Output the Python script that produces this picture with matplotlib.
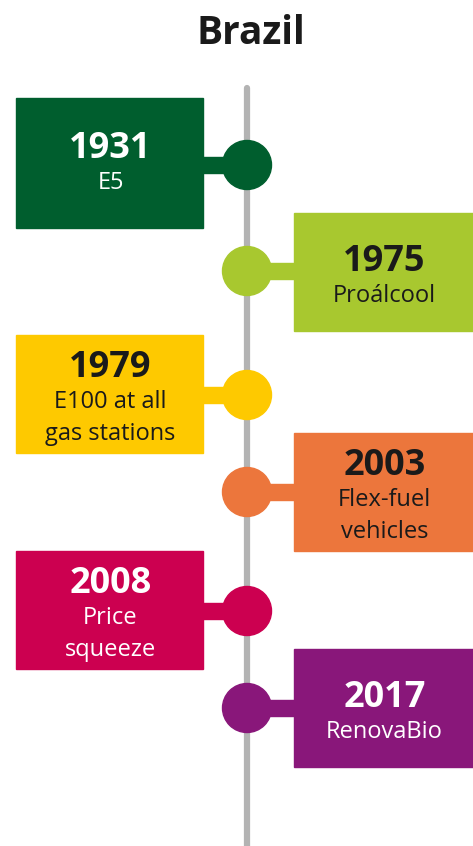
import matplotlib.pyplot as plt
from matplotlib.patches import Rectangle, Circle

# timeline data
years = ["1931", "1975", "1979", "2003", "2008", "2017"]
labels = ["E5", "Proálcool", "E100 at all\ngas stations", "Flex-fuel\nvehicles",
          "Price\nsqueeze", "RenovaBio"]
colors = ["#005e2e", "#a8c82f", "#fec900", "#ec763c", "#cc0050", "#89177a"]
text_colors = ["white", "#1a1a1a", "#1a1a1a", "#1a1a1a", "white", "white"]
sides = ["left", "right", "left", "right", "left", "right"]

# layout (pixels)
W, H = 473, 846
axis_x = 247
dot_y = [165, 271, 395, 492, 611, 708]
box_top = [98, 213, 335, 433, 551, 649]
box_h = [130, 118, 118, 118, 118, 118]
left_box = (16, 203)
right_box = (294, 473)
r = 24.5

fig = plt.figure(figsize=(W / 100, H / 100), dpi=100)
ax = fig.add_axes([0, 0, 1, 1])
ax.set_xlim(0, W)
ax.set_ylim(H, 0)
ax.axis("off")

ax.text(251, 33, "Brazil", ha="center", va="center", fontsize=28,
        fontweight="bold", family="Open Sans", color="#1a1a1a")

ax.plot([axis_x, axis_x], [88, H + 5], color="#b3b3b3", lw=4.5,
        solid_capstyle="round", zorder=1)

for i in range(len(years)):
    x0, x1 = left_box if sides[i] == "left" else right_box
    top, h = box_top[i], box_h[i]
    ax.add_patch(Rectangle((x0, top), x1 - x0, h, color=colors[i], zorder=2))
    # connector
    if sides[i] == "left":
        ax.add_patch(Rectangle((x1 - 1, dot_y[i] - 8), axis_x - x1, 16,
                               color=colors[i], zorder=2))
    else:
        ax.add_patch(Rectangle((axis_x, dot_y[i] - 8), x0 - axis_x + 1, 16,
                               color=colors[i], zorder=2))
    ax.add_patch(Circle((axis_x, dot_y[i]), r, color=colors[i], zorder=3))

    cx = (x0 + x1) / 2 + 1
    nlines = labels[i].count("\n") + 1
    y_year = top + h / 2 - 10 - 16 * (nlines - 1)
    if h > 120:
        y_year -= 4
    ax.text(cx, y_year, years[i], ha="center", va="center", fontsize=26,
            fontweight="bold", family="Open Sans", color=text_colors[i], zorder=4)
    for j, line in enumerate(labels[i].split("\n")):
        ax.text(cx, y_year + 34 + 32 * j, line, ha="center", va="center",
                fontsize=17, family="Open Sans", color=text_colors[i], zorder=4)

fig.savefig("out.png", dpi=100)
